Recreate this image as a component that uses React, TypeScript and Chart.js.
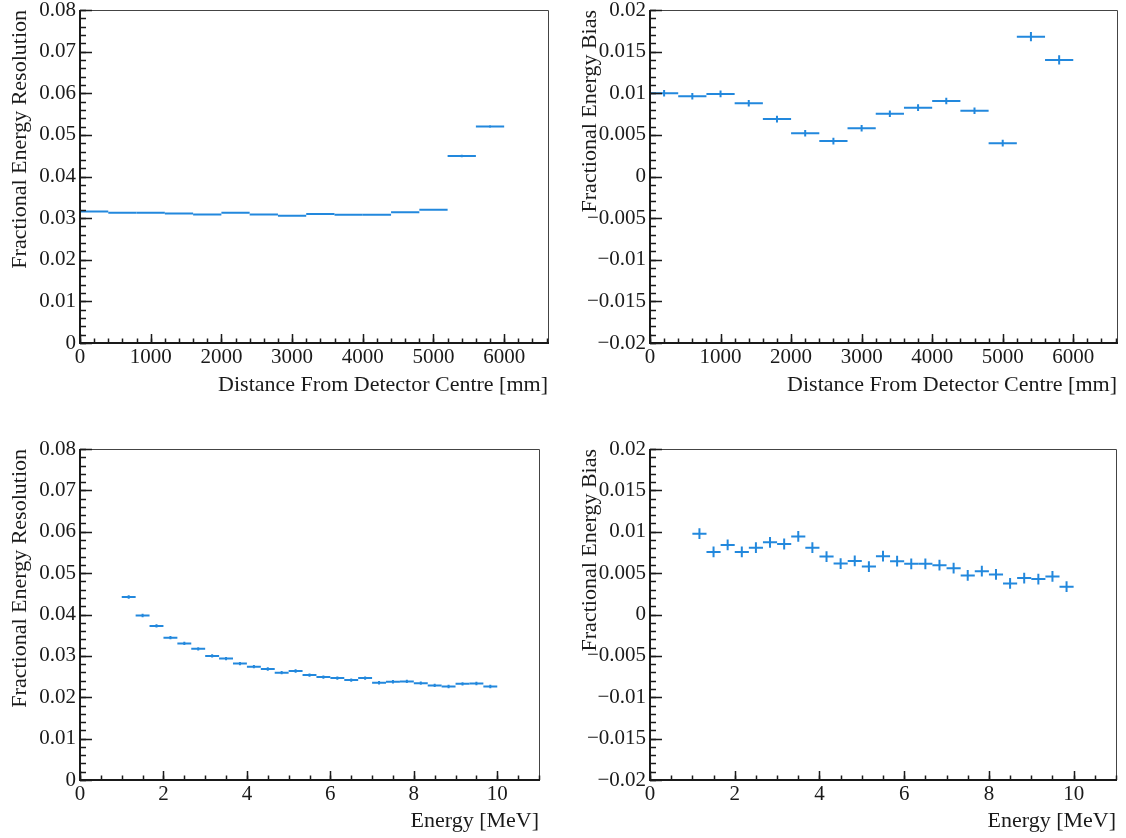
import React, { useEffect, useRef } from "react";
import { Chart, registerables } from "chart.js";
Chart.register(...registerables);

// ---------- data ----------
const distCentres = [200, 600, 1000, 1400, 1800, 2200, 2600, 3000, 3400, 3800, 4200, 4600, 5000, 5400, 5800];
const distBinHalf = [200, 200, 200, 200, 200, 200, 200, 200, 200, 200, 200, 200, 200, 200, 200];
const distResolution = [0.0316, 0.0313, 0.0313, 0.0311, 0.0309, 0.0313, 0.0309, 0.0306, 0.031, 0.0308, 0.0308, 0.0314, 0.032, 0.0449, 0.052];
const distResolutionErr = [0.0002, 0.0002, 0.0002, 0.0002, 0.0002, 0.0002, 0.0002, 0.0002, 0.0002, 0.0002, 0.0002, 0.0002, 0.0002, 0.0003, 0.0003];
const distBias = [0.01, 0.00964, 0.00992, 0.0088, 0.0069, 0.0052, 0.00425, 0.0058, 0.00754, 0.00827, 0.00907, 0.0079, 0.004, 0.0168, 0.014];
const distBiasErr = [0.0004, 0.0004, 0.0004, 0.0004, 0.0004, 0.0004, 0.0004, 0.0004, 0.0004, 0.0004, 0.0004, 0.0004, 0.0004, 0.00055, 0.00055];

const energyCentres = [1.167, 1.5, 1.833, 2.167, 2.5, 2.833, 3.167, 3.5, 3.833, 4.167, 4.5, 4.833, 5.167, 5.5, 5.833, 6.167, 6.5, 6.833, 7.167, 7.5, 7.833, 8.167, 8.5, 8.833, 9.167, 9.5, 9.833];
const energyBinHalf = [0.1667, 0.1667, 0.1667, 0.1667, 0.1667, 0.1667, 0.1667, 0.1667, 0.1667, 0.1667, 0.1667, 0.1667, 0.1667, 0.1667, 0.1667, 0.1667, 0.1667, 0.1667, 0.1667, 0.1667, 0.1667, 0.1667, 0.1667, 0.1667, 0.1667, 0.1667, 0.1667];
const energyResolution = [0.04423, 0.03976, 0.03724, 0.03439, 0.03301, 0.03171, 0.03, 0.02935, 0.02813, 0.0274, 0.02683, 0.02593, 0.02634, 0.02537, 0.02488, 0.02463, 0.02415, 0.02463, 0.0235, 0.02374, 0.02382, 0.02341, 0.02285, 0.0226, 0.02325, 0.02333, 0.0226];
const energyResolutionErr = [0.0004, 0.0004, 0.0004, 0.0004, 0.0004, 0.0004, 0.0004, 0.0004, 0.0004, 0.0004, 0.0004, 0.0004, 0.0004, 0.0004, 0.0004, 0.0004, 0.0004, 0.0004, 0.0004, 0.0004, 0.0004, 0.0004, 0.0004, 0.0004, 0.0004, 0.0004, 0.0004];
const energyBias = [0.00976, 0.00756, 0.0084, 0.00756, 0.00808, 0.00872, 0.00852, 0.00944, 0.00808, 0.007, 0.00616, 0.00648, 0.0058, 0.00704, 0.00644, 0.00612, 0.00612, 0.00596, 0.0056, 0.00472, 0.00524, 0.00484, 0.00376, 0.0044, 0.00428, 0.0046, 0.00336];
const energyBiasErr = [0.00065, 0.00065, 0.00065, 0.00065, 0.00065, 0.00065, 0.00065, 0.00065, 0.00065, 0.00065, 0.00065, 0.00065, 0.00065, 0.00065, 0.00065, 0.00065, 0.00065, 0.00065, 0.00065, 0.00065, 0.00065, 0.00065, 0.00065, 0.00065, 0.00065, 0.00065, 0.00065];

const distTicks = [0, 1000, 2000, 3000, 4000, 5000, 6000];
const distTickLabels = ["0", "1000", "2000", "3000", "4000", "5000", "6000"];
const energyTicks = [0, 2, 4, 6, 8, 10];
const energyTickLabels = ["0", "2", "4", "6", "8", "10"];
const resTicks = [0, 0.01, 0.02, 0.03, 0.04, 0.05, 0.06, 0.07, 0.08];
const resTickLabels = ["0", "0.01", "0.02", "0.03", "0.04", "0.05", "0.06", "0.07", "0.08"];
const biasTicks = [-0.02, -0.015, -0.01, -0.005, 0, 0.005, 0.01, 0.015, 0.02];
const biasTickLabels = ["\u22120.02", "\u22120.015", "\u22120.01", "\u22120.005", "0", "0.005", "0.01", "0.015", "0.02"];

const distTitle = "Distance From Detector Centre [mm]";
const energyTitle = "Energy [MeV]";
const resTitle = "Fractional Energy Resolution";
const biasTitle = "Fractional Energy Bias";

// ---------- styling ----------
const FONT = '"Liberation Serif", "DejaVu Serif", serif';
const MARK = "#2288dd";
const INK = "#1a1a1a";

type Panel = {
  left: number; top: number; w: number; h: number;
  pad: { left: number; top: number; right: number; bottom: number };
  xMin: number; xMax: number; yMin: number; yMax: number;
  xTicks: number[]; xLabels: string[]; xMinor: number;
  yTicks: number[]; yLabels: string[]; yMinor: number;
  xTitle: string; yTitle: string; yTitleX: number; xTitleY: number;
  centres: number[]; half: number[]; values: number[]; errs: number[];
};

const W = 563, H = 419;

const panels: Panel[] = [
  {
    left: 0, top: 0, w: W, h: H,
    pad: { left: 80, top: 10, right: 15, bottom: 76 },
    xMin: 0, xMax: 6620, yMin: 0, yMax: 0.08,
    xTicks: distTicks, xLabels: distTickLabels, xMinor: 200,
    yTicks: resTicks, yLabels: resTickLabels, yMinor: 0.002,
    xTitle: distTitle, yTitle: resTitle, yTitleX: 20, xTitleY: 385,
    centres: distCentres, half: distBinHalf, values: distResolution, errs: distResolutionErr,
  },
  {
    left: W, top: 0, w: W, h: H,
    pad: { left: 87, top: 10, right: 9, bottom: 76 },
    xMin: 0, xMax: 6620, yMin: -0.02, yMax: 0.02,
    xTicks: distTicks, xLabels: distTickLabels, xMinor: 200,
    yTicks: biasTicks, yLabels: biasTickLabels, yMinor: 0.001,
    xTitle: distTitle, yTitle: biasTitle, yTitleX: 27, xTitleY: 385,
    centres: distCentres, half: distBinHalf, values: distBias, errs: distBiasErr,
  },
  {
    left: 0, top: H, w: W, h: H,
    pad: { left: 80, top: 30, right: 24, bottom: 58 },
    xMin: 0, xMax: 11, yMin: 0, yMax: 0.08,
    xTicks: energyTicks, xLabels: energyTickLabels, xMinor: 0.5,
    yTicks: resTicks, yLabels: resTickLabels, yMinor: 0.002,
    xTitle: energyTitle, yTitle: resTitle, yTitleX: 20, xTitleY: 402,
    centres: energyCentres, half: energyBinHalf, values: energyResolution, errs: energyResolutionErr,
  },
  {
    left: W, top: H, w: W, h: H,
    pad: { left: 87, top: 30, right: 10, bottom: 58 },
    xMin: 0, xMax: 11, yMin: -0.02, yMax: 0.02,
    xTicks: energyTicks, xLabels: energyTickLabels, xMinor: 0.5,
    yTicks: biasTicks, yLabels: biasTickLabels, yMinor: 0.001,
    xTitle: energyTitle, yTitle: biasTitle, yTitleX: 27, xTitleY: 402,
    centres: energyCentres, half: energyBinHalf, values: energyBias, errs: energyBiasErr,
  },
];

function makePlugin(p: Panel) {
  return {
    id: "rootStyle",
    afterDraw(chart: any) {
      const ctx: CanvasRenderingContext2D = chart.ctx;
      const xs = chart.scales.x;
      const ys = chart.scales.y;
      const a = chart.chartArea;
      ctx.save();

      // error-bar markers
      ctx.strokeStyle = MARK;
      ctx.lineWidth = 2;
      ctx.lineCap = "butt";
      for (let i = 0; i < p.centres.length; i++) {
        const c = p.centres[i], v = p.values[i], e = p.errs[i], hw = p.half[i];
        const py = ys.getPixelForValue(v);
        const pxc = xs.getPixelForValue(c);
        ctx.beginPath();
        ctx.moveTo(xs.getPixelForValue(c - hw), py);
        ctx.lineTo(xs.getPixelForValue(c + hw), py);
        ctx.moveTo(pxc, ys.getPixelForValue(v - e));
        ctx.lineTo(pxc, ys.getPixelForValue(v + e));
        ctx.stroke();
      }

      // frame top/right
      ctx.strokeStyle = "#444";
      ctx.lineWidth = 1;
      ctx.beginPath();
      ctx.moveTo(a.left, a.top + 0.5);
      ctx.lineTo(a.right + 0.5, a.top + 0.5);
      ctx.lineTo(a.right + 0.5, a.bottom);
      ctx.stroke();

      // axes left/bottom
      ctx.strokeStyle = INK;
      ctx.lineWidth = 2;
      ctx.beginPath();
      ctx.moveTo(a.left, a.top);
      ctx.lineTo(a.left, a.bottom);
      ctx.lineTo(a.right + 1, a.bottom);
      ctx.stroke();

      // minor ticks
      ctx.lineWidth = 1.5;
      ctx.beginPath();
      const nyMinor = Math.round((p.yMax - p.yMin) / p.yMinor);
      for (let i = 0; i <= nyMinor; i++) {
        const y = Math.round(ys.getPixelForValue(p.yMin + i * p.yMinor)) + 0.5;
        ctx.moveTo(a.left, y);
        ctx.lineTo(a.left + 6, y);
      }
      const nxMinor = Math.floor((p.xMax - p.xMin) / p.xMinor + 1e-6);
      for (let i = 0; i <= nxMinor; i++) {
        const x = Math.round(xs.getPixelForValue(p.xMin + i * p.xMinor)) + 0.5;
        ctx.moveTo(x, a.bottom);
        ctx.lineTo(x, a.bottom - 4.5);
      }
      ctx.stroke();

      // major ticks
      ctx.beginPath();
      p.yTicks.forEach((t) => {
        const y = Math.round(ys.getPixelForValue(t)) + 0.5;
        ctx.moveTo(a.left, y);
        ctx.lineTo(a.left + 12, y);
      });
      p.xTicks.forEach((t) => {
        const x = Math.round(xs.getPixelForValue(t)) + 0.5;
        ctx.moveTo(x, a.bottom);
        ctx.lineTo(x, a.bottom - 9);
      });
      ctx.stroke();

      // tick labels
      ctx.fillStyle = INK;
      ctx.font = `21px ${FONT}`;
      ctx.textAlign = "right";
      ctx.textBaseline = "middle";
      p.yTicks.forEach((t, i) => {
        ctx.fillText(p.yLabels[i], a.left - 4, ys.getPixelForValue(t));
      });
      ctx.textAlign = "center";
      ctx.textBaseline = "top";
      p.xTicks.forEach((t, i) => {
        ctx.fillText(p.xLabels[i], xs.getPixelForValue(t), a.bottom + 4);
      });

      // axis titles
      ctx.font = `22px ${FONT}`;
      ctx.textAlign = "right";
      ctx.textBaseline = "middle";
      ctx.fillText(p.xTitle, a.right, p.xTitleY);
      ctx.save();
      ctx.translate(p.yTitleX, a.top);
      ctx.rotate(-Math.PI / 2);
      ctx.textAlign = "right";
      ctx.textBaseline = "middle";
      ctx.fillText(p.yTitle, 0, 0);
      ctx.restore();

      ctx.restore();
    },
  };
}

function PanelChart({ p }: { p: Panel }) {
  const ref = useRef<HTMLCanvasElement | null>(null);
  useEffect(() => {
    if (!ref.current) return;
    const chart = new Chart(ref.current, {
      type: "scatter",
      data: {
        datasets: [
          {
            data: p.centres.map((c, i) => ({ x: c, y: p.values[i] })),
            pointRadius: 0,
            showLine: false,
          },
        ],
      },
      options: {
        animation: false,
        responsive: false,
        maintainAspectRatio: false,
        devicePixelRatio: 1,
        layout: { padding: p.pad },
        plugins: { legend: { display: false }, tooltip: { enabled: false } },
        scales: {
          x: { type: "linear", min: p.xMin, max: p.xMax, display: false },
          y: { type: "linear", min: p.yMin, max: p.yMax, display: false },
        },
      },
      plugins: [makePlugin(p)],
    } as any);
    return () => chart.destroy();
  }, [p]);
  return (
    <canvas
      ref={ref}
      width={p.w}
      height={p.h}
      style={{ position: "absolute", left: p.left, top: p.top, width: p.w, height: p.h }}
    />
  );
}

export default function App() {
  return (
    <div style={{ position: "absolute", left: 0, top: 0, width: 1126, height: 838, background: "#fff" }}>
      {panels.map((p, i) => (
        <PanelChart key={i} p={p} />
      ))}
    </div>
  );
}
